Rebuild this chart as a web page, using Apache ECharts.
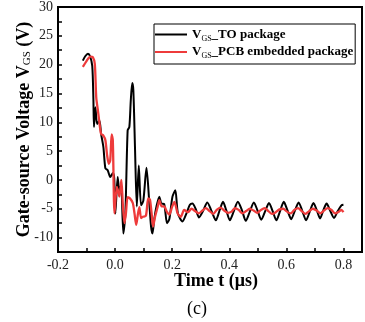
<!DOCTYPE html>
<html>
<head>
<meta charset="utf-8">
<script src="https://cdn.jsdelivr.net/npm/echarts@6/dist/echarts.min.js"></script>
<style>
  html, body { margin: 0; padding: 0; background: #fff; }
  #chart { width: 365px; height: 322px; }
</style>
</head>
<body>
<div id="chart"></div>
<script>
// time in us, voltage in V
var tTO = [-0.113, -0.104, -0.095, -0.088, -0.080, -0.076, -0.074, -0.069, -0.063, -0.055, -0.049, -0.041,
  -0.034, -0.026, -0.017, -0.008, -0.003, 0.001, 0.009, 0.015, 0.021, 0.029, 0.036, 0.044, 0.050, 0.055,
  0.060, 0.064, 0.070, 0.076, 0.083, 0.091, 0.099, 0.110, 0.120, 0.126, 0.131, 0.137, 0.145, 0.155, 0.162,
  0.172, 0.182, 0.190, 0.201, 0.211, 0.220, 0.236, 0.250, 0.262, 0.271, 0.282, 0.294, 0.308, 0.323, 0.338,
  0.353, 0.366, 0.378, 0.389, 0.402, 0.416, 0.430, 0.444, 0.458, 0.472, 0.486, 0.499, 0.512, 0.526, 0.539,
  0.552, 0.565, 0.578, 0.591, 0.604, 0.617, 0.630, 0.643, 0.656, 0.669, 0.682, 0.695, 0.707, 0.718, 0.730,
  0.741, 0.754, 0.767, 0.780, 0.793, 0.800];
var vTO = [20.7, 21.5, 21.9, 21.5, 19.8, 14.0, 9.2, 12.6, 9.7, 10.3, 8.0, 5.7,
  2.0, 1.7, 0.5, 1.2, 0.3, -5.8, 0.5, -1.8, -0.9, -9.3, -5.8, 8.6, 9.2, 13.8,
  16.8, 15.5, 5.1, -4.6, 2.5, -4.4, -3.6, 2.1, -4.1, -8.1, -9.3, -6.9, -4.6, -2.9, -4.1,
  -4.2, -7.5, -6.8, -2.9, -1.8, -5.8, -7.2, -5.8, -4.3, -4.1, -5.0, -6.5, -5.4, -3.9, -5.4,
  -7.0, -5.3, -3.8, -5.2, -7.0, -5.4, -3.8, -5.2, -7.1, -5.5, -3.9, -5.3, -6.9, -5.4, -4.0,
  -5.4, -7.0, -5.4, -3.8, -5.3, -6.8, -5.3, -3.9, -5.4, -7.0, -5.5, -4.0, -5.3, -6.7, -5.2,
  -4.1, -5.4, -6.6, -5.4, -4.4, -4.3];

var tPCB = [-0.113, -0.099, -0.087, -0.078, -0.071, -0.066, -0.060, -0.055, -0.049, -0.041, -0.034, -0.028,
  -0.022, -0.017, -0.012, -0.008, -0.002, 0.006, 0.015, 0.022, 0.027, 0.033, 0.038, 0.044, 0.052, 0.062,
  0.068, 0.074, 0.080, 0.085, 0.091, 0.097, 0.108, 0.116, 0.122, 0.128, 0.133, 0.140, 0.149, 0.155, 0.163,
  0.172, 0.181, 0.190, 0.200, 0.208, 0.219, 0.230, 0.242, 0.255, 0.268, 0.280, 0.293, 0.306, 0.318, 0.331,
  0.344, 0.356, 0.369, 0.382, 0.395, 0.408, 0.420, 0.433, 0.446, 0.459, 0.472, 0.485, 0.498, 0.511, 0.524,
  0.537, 0.550, 0.563, 0.576, 0.589, 0.602, 0.615, 0.628, 0.641, 0.654, 0.667, 0.680, 0.693, 0.706, 0.719,
  0.732, 0.745, 0.758, 0.771, 0.784, 0.793, 0.800];
var vPCB = [19.6, 20.7, 21.4, 21.3, 20.1, 14.3, 12.0, 10.0, 8.0, 7.7, 6.9, 4.3,
  2.8, 3.4, 7.9, 6.9, -5.8, -1.2, -2.9, 0.0, -4.1, -7.5, -5.8, -3.0, -3.2, -4.0,
  -5.8, -7.8, -5.9, -4.7, -6.6, -6.4, -6.2, -3.2, -3.4, -5.8, -8.1, -6.4, -4.7, -3.5, -4.6,
  -4.6, -5.5, -6.0, -4.6, -3.8, -5.8, -6.4, -5.2, -5.6, -5.0, -5.4, -5.8, -5.3, -4.9, -5.4,
  -5.9, -5.2, -4.8, -5.3, -5.7, -5.5, -4.9, -5.2, -5.8, -5.4, -5.0, -5.3, -5.7, -5.2, -4.9,
  -5.4, -5.9, -5.6, -5.1, -5.0, -5.5, -5.8, -5.2, -4.9, -5.4, -5.9, -5.4, -5.0, -5.3, -5.8,
  -5.3, -4.9, -5.2, -5.8, -5.5, -5.2, -5.6];

function pairs(t, v) {
  return t.map(function (x, i) { return [x, v[i]]; });
}

var serif = '"Liberation Serif", "Times New Roman", serif';
var chart = echarts.init(document.getElementById('chart'));

var option = {
  backgroundColor: '#fff',
  animation: false,
  grid: {
    left: 58, right: 2, top: 6, bottom: 70,
    show: true, borderColor: '#000', borderWidth: 2
  },
  legend: {
    left: 154, top: 24,
    orient: 'vertical',
    padding: [4, 2, 4, 1],
    itemGap: 3,
    itemWidth: 32,
    itemHeight: 2,
    icon: 'rect',
    borderColor: '#000',
    borderWidth: 1,
    data: ['TO', 'PCB'],
    formatter: function (name) {
      return name === 'TO' ? '{v|V}{s|GS}{v|_TO package}' : '{v|V}{s|GS}{v|_PCB embedded package}';
    },
    textStyle: {
      rich: {
        v: { fontFamily: serif, fontSize: 13, fontWeight: 'bold', color: '#000', height: 16 },
        s: { fontFamily: serif, fontSize: 8, color: '#000', verticalAlign: 'bottom', padding: [4, 0, 0, 0] }
      }
    }
  },
  xAxis: {
    type: 'value',
    min: -0.2,
    max: 0.865,
    interval: 0.1,
    splitLine: { show: false },
    axisLine: { onZero: false, lineStyle: { color: '#000', width: 2 } },
    axisTick: { inside: true, length: 4, lineStyle: { color: '#000', width: 1.5 } },
    axisLabel: {
      interval: 0,
      margin: 6,
      fontFamily: serif, fontSize: 14, color: '#222',
      formatter: function (v) {
        var k = Math.round(v * 10);
        if (Math.abs(v * 10 - k) > 1e-6 || k % 2 !== 0) return '';
        return (k / 10).toFixed(1);
      }
    },
    name: 'Time t (\u03bcs)',
    nameLocation: 'middle',
    nameGap: 20,
    nameMoveOverlap: false,
    nameTextStyle: { fontFamily: serif, fontSize: 18, fontWeight: 'bold', color: '#000', padding: [0, 0, 0, 12] }
  },
  yAxis: {
    type: 'value',
    min: -12.5,
    max: 30,
    interval: 2.5,
    splitLine: { show: false },
    axisLine: { onZero: false, lineStyle: { color: '#000', width: 2 } },
    axisTick: { inside: true, length: 4, lineStyle: { color: '#000', width: 1.5 } },
    axisLabel: {
      interval: 0,
      margin: 5,
      fontFamily: serif, fontSize: 14, color: '#222',
      formatter: function (v) {
        return Math.abs(v % 5) < 1e-6 ? String(v) : '';
      }
    },
    name: '{b|Gate-source Voltage V}{s|GS}{b| (V)}',
    nameLocation: 'middle',
    nameGap: 25,
    nameMoveOverlap: false,
    nameTextStyle: {
      rich: {
        b: { fontFamily: serif, fontSize: 18, fontWeight: 'bold', color: '#000' },
        s: { fontFamily: serif, fontSize: 11, color: '#000', verticalAlign: 'bottom', padding: [6, 0, 0, 0] }
      }
    }
  },
  series: [
    {
      name: 'TO',
      type: 'line',
      data: pairs(tTO, vTO),
      symbol: 'none',
      smooth: 0.25,
      lineStyle: { color: '#000', width: 2 },
      itemStyle: { color: '#000' },
      z: 2
    },
    {
      name: 'PCB',
      type: 'line',
      data: pairs(tPCB, vPCB),
      symbol: 'none',
      smooth: 0.25,
      lineStyle: { color: '#ee3b3b', width: 2.3 },
      itemStyle: { color: '#ee3b3b' },
      z: 3
    }
  ],
  graphic: [{
    type: 'text',
    left: 187,
    top: 300,
    style: { text: '(c)', fontFamily: serif, fontSize: 18, fill: '#000' }
  }]
};

chart.setOption(option);
</script>
</body>
</html>
